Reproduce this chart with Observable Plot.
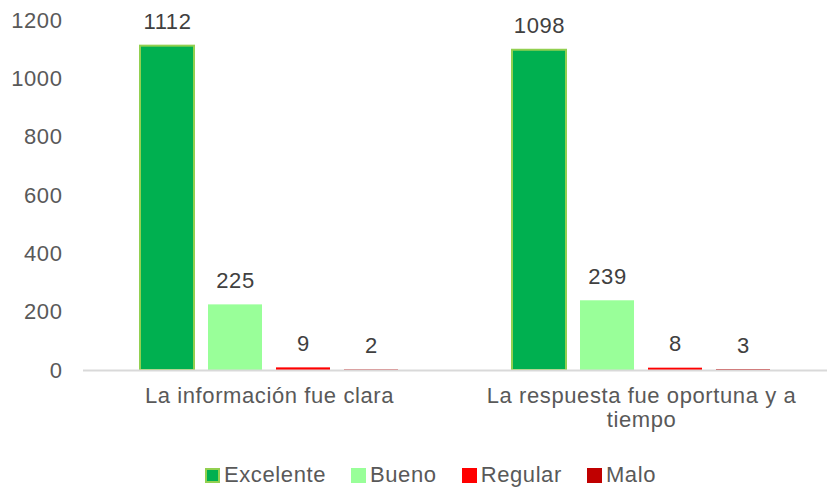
<!DOCTYPE html>
<html>
<head>
<meta charset="utf-8">
<script src="https://cdn.jsdelivr.net/npm/d3@7"></script>
<script src="https://cdn.jsdelivr.net/npm/@observablehq/plot@0.6"></script>
<style>
  body { margin: 0; background: #fff; font-family: "Liberation Sans", Arial, sans-serif; }
  #wrap { position: relative; width: 827px; height: 488px; }
  #chart svg text { font-size: 22px; letter-spacing: 0.6px; }
  #legend { position: absolute; left: 205px; top: 463px; height: 24px; display: flex; align-items: center; font-size: 22px; letter-spacing: 0.6px; color: #595959; line-height: 24px; }
  .item { display: flex; align-items: center; margin-right: 25px; }
  .sw { width: 15px; height: 15px; margin-right: 4px; box-sizing: border-box; }
</style>
</head>
<body>
<div id="wrap"><div id="chart"></div><div id="legend"></div></div>
<script>
const categories = ["La información fue clara", "La respuesta fue oportuna y a tiempo"];
const series = ["Excelente", "Bueno", "Regular", "Malo"];
const excelente = [1112, 1098];
const bueno = [225, 239];
const regular = [9, 8];
const malo = [2, 3];
const yTicks = [0, 200, 400, 600, 800, 1000, 1200];
const fills = ["#00b050", "#99ff99", "#ff0000", "#c00000"];
const strokes = ["#92d050", "none", "none", "none"];

const values = [excelente, bueno, regular, malo];
const data = [];
categories.forEach((c, i) => series.forEach((s, j) => data.push({category: c, series: s, value: values[j][i]})));

const chart = Plot.plot({
  width: 827,
  height: 440,
  marginLeft: 83,
  marginRight: 0,
  marginTop: 20,
  marginBottom: 70,
  style: {fontFamily: "Liberation Sans, Arial, sans-serif", fontSize: "22px", color: "#595959", background: "#fff"},
  fx: {domain: categories, padding: 0, label: null, axis: null},
  x: {domain: series, paddingInner: 0.206, paddingOuter: 0.838, axis: null},
  y: {domain: [0, 1200], ticks: yTicks, label: null, axis: null},
  color: {domain: series, range: fills},
  marks: [
    Plot.axisY({ticks: yTicks, tickSize: 0, tickPadding: 21, label: null, fill: "#595959", tickFormat: d => String(d)}),
    Plot.axisFx({anchor: "bottom", tickSize: 0, tickPadding: 15, label: null, fill: "#595959", lineHeight: 1.1,
      tickFormat: d => d === categories[1] ? "La respuesta fue oportuna y a\ntiempo" : d}),
    Plot.barY(data, {fx: "category", x: "series", y: "value", fill: "series",
      stroke: d => strokes[series.indexOf(d.series)], strokeWidth: 2}),
    Plot.ruleY([0], {stroke: "#d9d9d9", strokeWidth: 2}),
    Plot.text(data, {fx: "category", x: "series", y: "value", text: d => String(d.value), dy: -24, fill: "#404040"})
  ]
});
document.getElementById("chart").appendChild(chart);

const legend = document.getElementById("legend");
series.forEach((s, j) => {
  const it = document.createElement("div");
  it.className = "item";
  const sw = document.createElement("div");
  sw.className = "sw";
  sw.style.background = fills[j];
  if (strokes[j] !== "none") sw.style.border = "2px solid " + strokes[j];
  const t = document.createElement("span");
  t.textContent = s;
  it.appendChild(sw); it.appendChild(t);
  legend.appendChild(it);
});
</script>
</body>
</html>
